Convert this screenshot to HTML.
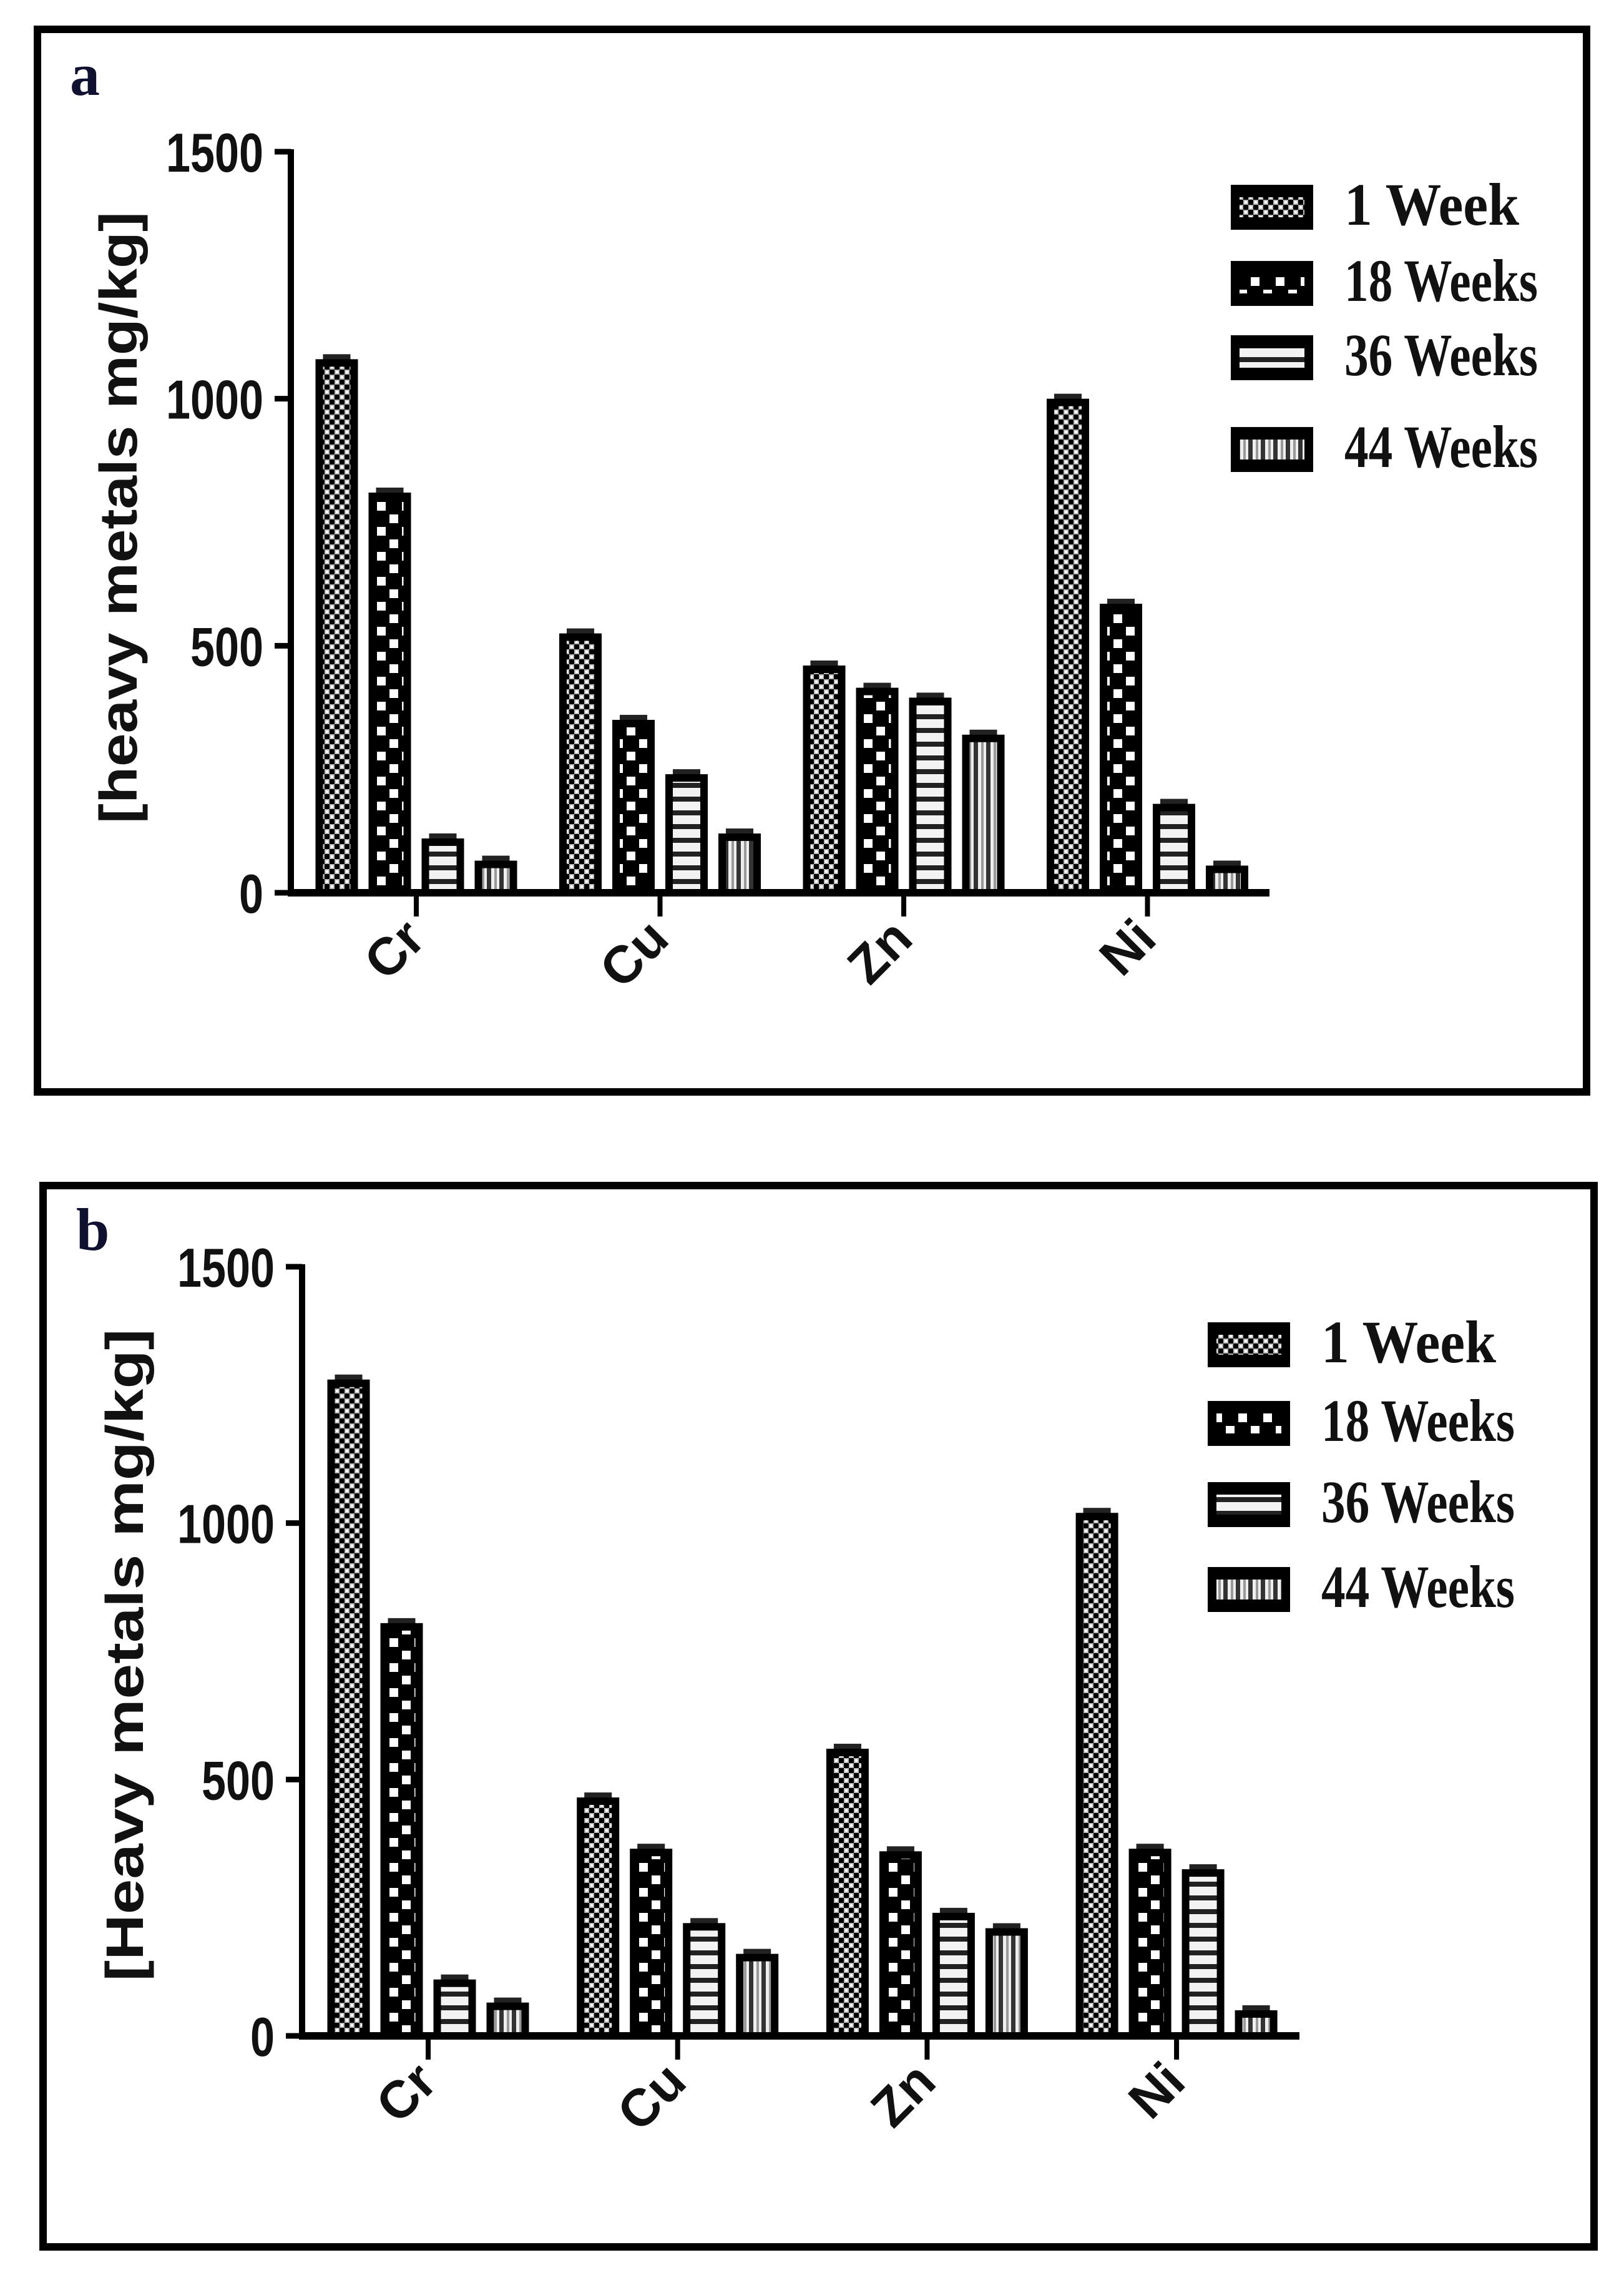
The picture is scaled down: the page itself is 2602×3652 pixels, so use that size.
<!DOCTYPE html>
<html><head><meta charset="utf-8"><style>
html,body{margin:0;padding:0;background:#fff;}
svg{display:block;}
</style></head><body>
<svg id="fig" width="2602" height="3652" viewBox="0 0 2602 3652" xmlns="http://www.w3.org/2000/svg">
<defs>
<pattern id="p1" width="16" height="16" patternUnits="userSpaceOnUse">
<rect width="16" height="16" fill="#bbb"/><rect width="8" height="8" fill="#000"/><rect x="8" y="8" width="8" height="8" fill="#000"/><rect x="2" y="10" width="4" height="4" fill="#fff"/><rect x="10" y="2" width="4" height="4" fill="#fff"/>
</pattern>
<pattern id="p2" width="40" height="40" patternUnits="userSpaceOnUse">
<rect width="40" height="40" fill="#000"/><rect x="4" y="4" width="14" height="14" fill="#fff"/><rect x="24" y="24" width="14" height="14" fill="#fff"/>
</pattern>
<pattern id="p3" width="20" height="22" patternUnits="userSpaceOnUse">
<rect width="20" height="22" fill="#f2f2f2"/><rect y="0" width="20" height="8" fill="#222"/>
</pattern>
<pattern id="p4" width="20" height="20" patternUnits="userSpaceOnUse">
<rect width="20" height="20" fill="#eee"/><rect x="0" width="7" height="20" fill="#333"/><rect x="12" width="4" height="20" fill="#999"/>
</pattern>
</defs>
<g id="panelA"></g>
<g id="panelB"></g>
</svg>
<script>
const categories = ["Cr","Cu","Zn","Ni"];
const seriesNames = ["1  Week","18 Weeks","36 Weeks","44 Weeks"];
const aWeek1 = [1080, 525, 460, 1000];
const aWeek18 = [810, 350, 415, 585];
const aWeek36 = [110, 240, 395, 180];
const aWeek44 = [65, 120, 320, 55];
const bWeek1 = [1280, 465, 560, 1020];
const bWeek18 = [805, 365, 360, 365];
const bWeek36 = [110, 220, 240, 325];
const bWeek44 = [65, 160, 210, 50];
const yTicks = [0, 500, 1000, 1500];

const NS = "http://www.w3.org/2000/svg";
function mk(parent, tag, attrs, text){
  const e = document.createElementNS(NS, tag);
  for (const k in attrs) e.setAttribute(k, attrs[k]);
  if (text !== undefined) e.textContent = text;
  parent.appendChild(e);
  return e;
}
const pats = ["url(#p1)","url(#p2)","url(#p3)","url(#p4)"];

function drawPanel(g, cfg){
  const y = v => cfg.y0 - (v/1500)*(cfg.y0 - cfg.y1500);
  const cx = i => cfg.centers0 + i*cfg.catStep;
  const border = mk(g,'rect',{x:cfg.bx+6,y:cfg.by+6,width:cfg.bw-12,height:cfg.bh-12,fill:'none',stroke:'#000','stroke-width':12});
  
  
  const lab = mk(g,'text',{x:cfg.labX,y:cfg.labY,'font-family':'"Liberation Serif",serif','font-weight':'bold','font-size':96,fill:'#101030'},cfg.label);
  
  
  const ya = mk(g,'line',{x1:cfg.ax,y1:cfg.y1500-4,x2:cfg.ax,y2:cfg.y0+6,stroke:'#000','stroke-width':10});
  
  
  yTicks.forEach(t=>{
    const tk = mk(g,'line',{x1:cfg.ax-26,y1:y(t),x2:cfg.ax,y2:y(t),stroke:'#000','stroke-width':9});
    
    
    const w = String(t).length*39;
    const tl = mk(g,'text',{x:cfg.ax-44,y:y(t)+32,'text-anchor':'end','font-family':'"Liberation Sans",sans-serif','font-weight':'bold','font-size':88,fill:'#111',textLength:w,lengthAdjust:'spacingAndGlyphs'},String(t));
    
    
  });
  const yt = mk(g,'text',{x:0,y:0,transform:`translate(${cfg.titleX},${cfg.titleY}) rotate(-90)`,'text-anchor':'middle','dominant-baseline':'central','font-family':'"Liberation Sans",sans-serif','font-weight':'bold','font-size':84,fill:'#111',textLength:cfg.titleLen,lengthAdjust:'spacingAndGlyphs'},cfg.title);
  
  
  const bw = 68, pitch = 85;
  cfg.series.forEach((vals, s)=>{
    vals.forEach((v, i)=>{
      const x = cx(i) - 1.5*pitch - bw/2 + s*pitch;
      const top = y(v);
      const cap = mk(g,'rect',{x:x+12,y:top-8,width:bw-24,height:10,fill:'#222'});
      
      
      const r = mk(g,'rect',{x:x+6,y:top+6,width:bw-12,height:Math.max(0,cfg.y0-top-6),fill:pats[s],stroke:'#000','stroke-width':12});
      
      
    });
  });
  const xa = mk(g,'line',{x1:cfg.ax-5,y1:cfg.y0,x2:cfg.xEnd,y2:cfg.y0,stroke:'#000','stroke-width':12});
  
  
  categories.forEach((c,i)=>{
    const tk = mk(g,'line',{x1:cx(i),y1:cfg.y0,x2:cx(i),y2:cfg.y0+38,stroke:'#000','stroke-width':8});
    
    
    const tl = mk(g,'text',{x:0,y:0,transform:`translate(${cx(i)+18},${cfg.y0+78}) rotate(-45)`,'text-anchor':'end','font-family':'"Liberation Sans",sans-serif','font-weight':'bold','font-size':84,fill:'#111'},c);
    
    
  });
  seriesNames.forEach((n,s)=>{
    const ly = cfg.legY[s];
    const lg = mk(g,'g',{});
    
    
    mk(lg,'rect',{x:cfg.legX,y:ly,width:132,height:72,fill:'#000'});
    mk(lg,'rect',{x:cfg.legX+14,y:ly+20,width:104,height:32,fill:pats[s]});
    mk(lg,'text',{x:cfg.legTX,y:ly+64,'font-family':'"Liberation Serif",serif','font-weight':'bold','font-size':96,fill:'#111',textLength:s===0?280:310,lengthAdjust:'spacingAndGlyphs'},n);
  });
}

drawPanel(document.getElementById('panelA'),{
  bx:54,by:41,bw:2494,bh:1714,label:'a',labX:112,labY:152,
  ax:466,y0:1430,y1500:243,xEnd:2034,centers0:667,catStep:390.5,
  titleX:190,titleY:829,titleLen:980,title:'[heavy metals mg/kg]',
  series:[aWeek1,aWeek18,aWeek36,aWeek44],
  legX:1972,legTX:2154,legY:[296,418,537,684]
});
drawPanel(document.getElementById('panelB'),{
  bx:63,by:1893,bw:2497,bh:1712,label:'b',labX:122,labY:2002,
  ax:484,y0:3261,y1500:2029,xEnd:2082,centers0:686,catStep:399.7,
  titleX:200,titleY:2651,titleLen:1045,title:'[Heavy metals mg/kg]',
  series:[bWeek1,bWeek18,bWeek36,bWeek44],
  legX:1935,legTX:2117,legY:[2118,2244,2374,2510]
});
</script>
</body></html>
